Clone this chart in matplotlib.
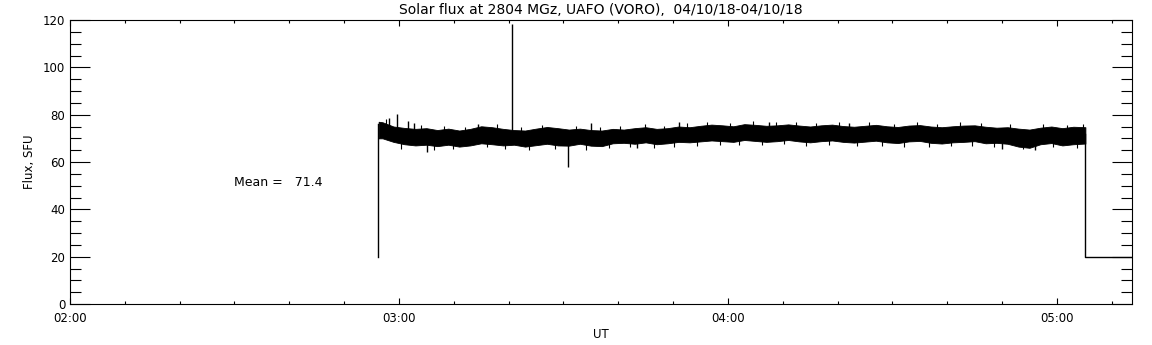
import matplotlib
matplotlib.use("Agg")
import matplotlib.pyplot as plt
import numpy as np

# time in minutes UT, flux in SFU
band_t = [176.3, 177, 179, 181, 183, 185, 187, 189, 191, 193, 195, 197, 199, 201, 203,
          205, 207, 209, 211, 213, 215, 217, 219, 221, 223, 225, 227, 229, 231, 233,
          235, 237, 239, 241, 243, 245, 247, 249, 251, 253, 255, 257, 259, 261, 263,
          265, 267, 269, 271, 273, 275, 277, 279, 281, 283, 285, 287, 289, 291, 293,
          295, 297, 299, 301, 303, 305.2]
band_hi = [77.0, 76.8, 75.0, 74.4, 74.0, 74.3, 73.5, 74.1, 73.3, 74.0, 75.1, 74.7, 74.0, 73.5, 73.3,
           74.1, 74.8, 74.3, 73.7, 74.1, 73.5, 73.3, 74.0, 73.7, 74.3, 74.7, 74.0, 74.3, 75.0, 74.7,
           75.3, 75.8, 75.5, 75.1, 76.0, 75.7, 75.3, 75.5, 75.9, 75.4, 75.0, 75.5, 75.8, 75.2, 74.9,
           75.3, 75.7, 75.1, 74.8, 75.4, 75.6, 75.0, 74.7, 75.1, 75.4, 75.5, 74.9, 74.5, 74.7, 74.1,
           73.7, 74.5, 75.0, 74.3, 74.9, 74.7]
band_lo = [70.0, 70.0, 68.5, 67.5, 67.0, 67.3, 66.7, 67.3, 66.5, 67.0, 67.9, 67.5, 67.0, 67.3, 66.5,
           67.1, 67.7, 67.0, 66.9, 67.7, 66.9, 66.7, 67.9, 68.1, 67.7, 68.3, 67.5, 67.9, 68.5, 68.3,
           68.7, 69.1, 68.8, 68.5, 69.3, 68.9, 68.5, 68.8, 69.3, 68.7, 68.3, 68.8, 69.1, 68.5, 68.2,
           68.6, 69.0, 68.3, 68.0, 68.7, 68.9, 68.1, 67.8, 68.3, 68.5, 68.8, 67.9, 68.1, 67.7, 66.5,
           66.0, 67.5, 68.0, 67.0, 67.5, 67.8]

# isolated spikes (time, peak value)
spike_t = [178.2, 179.6, 181.6, 182.7, 185.1, 200.7, 210.9, 194.5, 215.0, 223.5, 231.0, 247.5, 262.0, 290.0, 296.0]
spike_v = [78.6, 80.3, 77.3, 76.6, 64.3, 118.3, 58.0, 76.2, 76.5, 65.8, 77.0, 76.8, 76.6, 65.5, 65.0]

# small noise peaks sticking out of the band
noise_t = [177.6, 180.4, 184.0, 186.3, 188.2, 189.9, 192.1, 196.0, 197.8, 199.4, 202.2, 203.7,
           206.1, 208.4, 212.3, 214.1, 216.6, 218.3, 220.4, 222.2, 224.8, 226.5, 228.3, 230.1,
           232.6, 234.3, 236.2, 238.5, 240.3, 242.1, 244.6, 246.3, 248.7, 250.2, 252.5, 254.3,
           256.1, 258.4, 260.2, 263.6, 265.8, 268.1, 270.3, 272.2, 274.5, 276.7, 278.2, 280.6,
           282.3, 284.5, 286.2, 288.6, 291.4, 293.8, 297.5, 299.3, 301.8, 303.6, 304.7]
noise_v = [78.0, 65.6, 75.8, 65.0, 75.2, 65.3, 74.8, 66.2, 76.0, 65.5, 74.9, 65.0,
           75.7, 65.4, 75.1, 65.2, 74.6, 65.8, 75.3, 66.4, 75.9, 66.0, 75.4, 66.5,
           76.3, 66.8, 77.0, 67.1, 76.6, 67.0, 77.2, 67.3, 76.8, 67.4, 77.1, 66.9,
           76.6, 67.2, 77.0, 66.6, 76.9, 66.9, 76.2, 66.5, 76.8, 66.4, 76.1, 66.7,
           76.7, 66.9, 76.3, 66.2, 76.0, 65.4, 76.2, 66.2, 75.7, 65.8, 76.2]

start_t = [176.2, 176.2]
start_v = [20, 76]
end_t = [305.2, 305.2, 330]
end_v = [72, 20, 20]

mean_flux = 71.4
title = "Solar flux at 2804 MGz, UAFO (VORO),  04/10/18-04/10/18"

plt.rcParams['font.family'] = ['DejaVu Sans']
plt.rcParams['font.size'] = 8.5

fig = plt.figure(figsize=(11.52, 3.45), dpi=100)
ax = fig.add_axes([70 / 1152, 1 - 304 / 345, 1062 / 1152, 284 / 345])

ax.fill_between(band_t, band_lo, band_hi, color='black', lw=0.6, edgecolor='black')
mid = np.interp(spike_t, band_t, (np.array(band_hi) + np.array(band_lo)) / 2)
ax.vlines(spike_t, mid, spike_v, color='black', lw=1)
mid_n = np.interp(noise_t, band_t, (np.array(band_hi) + np.array(band_lo)) / 2)
ax.vlines(noise_t, mid_n, noise_v, color='black', lw=0.8)
ax.plot(start_t, start_v, color='black', lw=1)
ax.plot(end_t, end_v, color='black', lw=1)

ax.text(150, 50, "Mean =   %.1f" % mean_flux, ha='left', va='baseline', fontsize=9)

ax.set_xlim(120, 313.7)
ax.set_ylim(0, 120)
ax.set_xticks([120, 180, 240, 300])
ax.set_xticklabels(["02:00", "03:00", "04:00", "05:00"])
ax.set_xticks(np.arange(130, 313, 10), minor=True)
ax.set_yticks(np.arange(0, 121, 20))
ax.set_yticks(np.arange(0, 121, 5), minor=True)

ax.tick_params(axis='both', which='both', direction='in', top=True, right=True, width=0.8, color='black')
ax.tick_params(axis='x', which='major', length=4, pad=6)
ax.tick_params(axis='x', which='minor', length=2.2)
ax.tick_params(axis='y', which='major', length=14.4, pad=3.5)
ax.tick_params(axis='y', which='minor', length=7.9)
for s in ax.spines.values():
    s.set_linewidth(0.8)

ax.set_title(title, pad=4, fontsize=10)
ax.set_xlabel("UT", labelpad=2)
ax.set_ylabel("Flux, SFU", labelpad=5)

fig.savefig("out.png", dpi=100)
